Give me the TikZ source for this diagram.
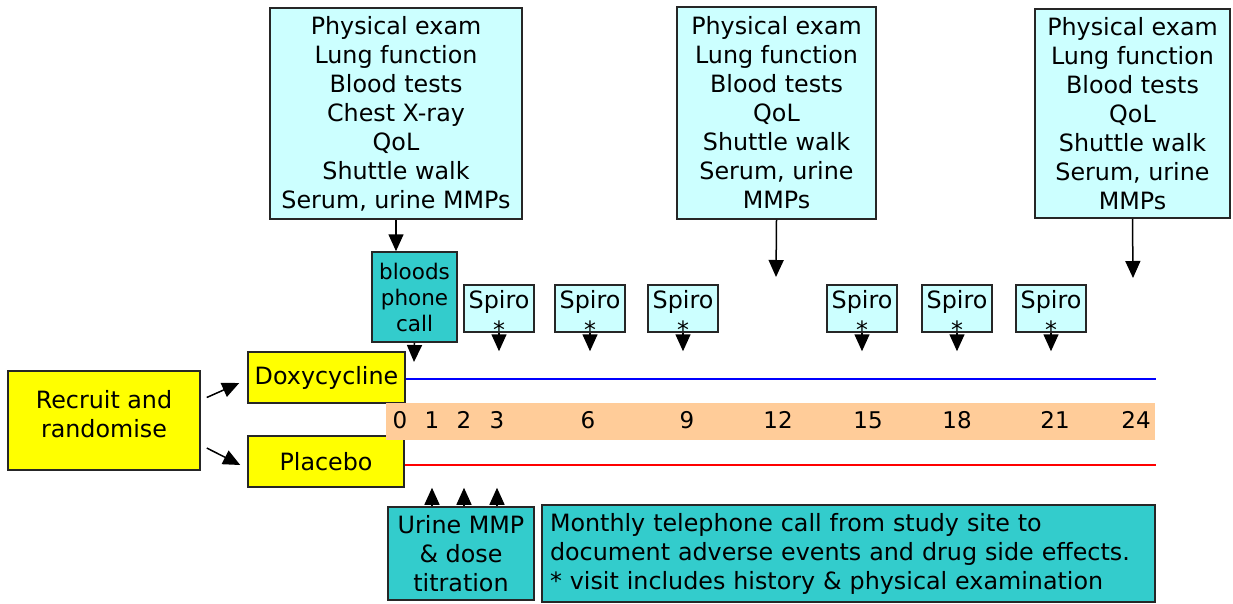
\documentclass[tikz,border=0pt]{standalone}
\usepackage{fontspec}
\setmainfont{DejaVu Sans}
\usetikzlibrary{arrows.meta,positioning}

\definecolor{examcyan}{HTML}{CCFFFF}
\definecolor{visitteal}{HTML}{33CCCC}
\definecolor{armyellow}{HTML}{FFFF00}
\definecolor{bandorange}{HTML}{FFCC99}
\definecolor{doxyblue}{HTML}{0000FF}
\definecolor{placred}{HTML}{FF0000}

\begin{document}
\begin{tikzpicture}[x=1pt,y=-1pt,>={Triangle[width=15pt,length=17pt]},line width=1.5pt]
		\tikzstyle{box}=[rectangle, draw=black!85, line width=1.5pt, inner sep=4pt, align=center]
		\tikzstyle{exam}=[box, fill=examcyan, font=\fontsize{23.8}{29}\selectfont]
		\tikzstyle{spirobox}=[box, fill=examcyan, minimum width=70pt, minimum height=47pt, inner sep=0pt]
		\tikzstyle{spirotext}=[font=\fontsize{23.8}{25}\selectfont, align=center, inner sep=0pt]
		\tikzstyle{visit}=[box, fill=visitteal, font=\fontsize{23.8}{29}\selectfont]
		\tikzstyle{arm}=[box, fill=armyellow, font=\fontsize{23.8}{29}\selectfont]
		\tikzstyle{month}=[font=\fontsize{23}{24}\selectfont, inner sep=0pt]

		\useasboundingbox (0,0) rectangle (1233,603);

		% assessment boxes
		\node [exam, minimum width=252pt, minimum height=211pt] (ex0) at (396,113.5) {Physical exam\\Lung function\\Blood tests\\Chest X-ray\\QoL\\Shuttle walk\\Serum, urine MMPs};
		\node [exam, minimum width=199pt, minimum height=212pt] (ex12) at (776.5,113) {Physical exam\\Lung function\\Blood tests\\QoL\\Shuttle walk\\Serum, urine\\MMPs};
		\node [exam, minimum width=195pt, minimum height=209pt] (ex24) at (1132.5,113.5) {Physical exam\\Lung function\\Blood tests\\QoL\\Shuttle walk\\Serum, urine\\MMPs};

		\node [visit, font=\fontsize{21.5}{26}\selectfont, minimum width=85pt, minimum height=90pt, inner sep=1pt] (bloods) at (414.5,297) {bloods\\phone\\call};

		% spirometry visits
		\foreach \m/\x in {3/499,6/590,9/683,15/862,18/957,21/1051}{
			\node [spirobox] (s\m) at (\x,308.5) {};
			\node [spirotext] (s\m text) at ([yshift=-5.5pt]s\m.center) {Spiro\\[5pt]{*}};
		}

		% randomisation
		\node [arm, minimum width=192pt, minimum height=99pt] (recruit) at (104,420.5) {};
		\node [font=\fontsize{23.8}{29}\selectfont, align=center] (recruittext) at ([yshift=6pt]recruit.center) {Recruit and\\randomise};
		\node [arm, minimum width=157pt, minimum height=51pt] (doxy) at (326.5,377.5) {Doxycycline};
		\node [arm, minimum width=156pt, minimum height=51pt] (placebo) at (326,461.5) {Placebo};

		% timeline in months
		\node [fill=bandorange, minimum width=769pt, minimum height=37pt, inner sep=0pt] (band) at (770.5,421.5) {};
		\foreach \m/\x in {0/400,1/432,2/464,3/497,6/588,9/687,12/778,15/868,18/957,21/1055,24/1136}
			\node [month] (n\m) at (\x,420) {\m};

		\draw [draw=doxyblue, line width=2pt] ([yshift=-1.5pt]doxy.east) -- ([yshift=-1.5pt]doxy.east -| band.east);
		\draw [draw=placred, line width=2pt] ([yshift=-3.5pt]placebo.east) -- ([yshift=-3.5pt]placebo.east -| band.east);

		% lower boxes
		\node [visit, minimum width=146pt, minimum height=93pt] (urine) at (461,553.5) {Urine MMP\\\& dose\\titration};
		\node [visit, align=left, text width=597pt, minimum height=93pt, inner sep=8pt] (phone) at (848.5,553.5) {Monthly telephone call from study site to\\document adverse events and drug side effects.\\{*} visit includes history \& physical examination\\[-6pt]};

		% connectors
		\coordinate (c12) at (776,277);
		\coordinate (c24) at (1133,278);
		\coordinate (cb) at (414,362);
		\draw [->] (ex0.south) -- (ex0.south |- bloods.north);
		\draw [->] (ex12.south) -- (c12);
		\draw [->] (ex24.south) -- (c24);
		\draw [->] (bloods.south) -- (cb);
		\foreach \m in {3,6,9,15,18,21}
			\draw [->] (s\m.south) -- (s\m.south |- doxy.north);
		\foreach \m in {1,2,3}
			\draw [->] (urine.north -| n\m) -- (n\m |- placebo.south);
		\draw [->] ([shift={(6,-23)}]recruit.east) -- ([shift={(-8,5.5)}]doxy.west);
		\draw [->] ([shift={(6,27.5)}]recruit.east) -- ([shift={(-7,3.5)}]placebo.west);
	\end{tikzpicture}
\end{document}
